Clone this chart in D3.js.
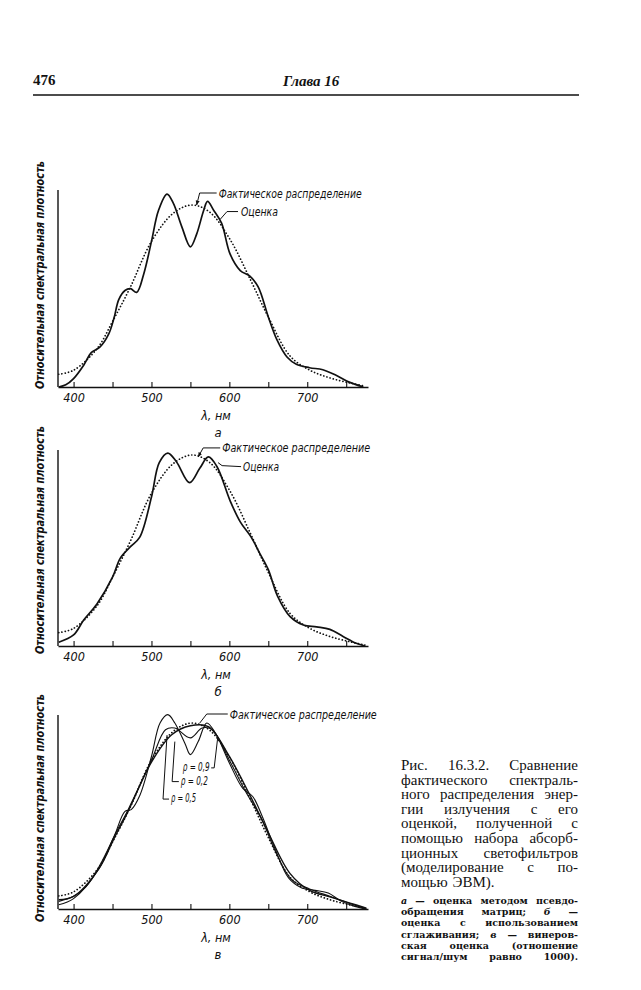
<!DOCTYPE html>
<html>
<head>
<meta charset="utf-8">
<script src="https://cdn.jsdelivr.net/npm/d3@7"></script>
<style>
body { margin: 0; background: #fff; }
text { fill: #111; }
.cond { font-family: "Liberation Sans Narrow", "DejaVu Sans Condensed", "Arial Narrow", sans-serif; font-style: italic; }
.cap { font-family: "Liberation Serif", "DejaVu Serif", serif; font-size: 15px; }
.small { font-family: "DejaVu Serif", "Liberation Serif", serif; font-size: 9.5px; font-weight: bold; }
</style>
</head>
<body>
<div id="page"></div>
<script>
// [wavelength nm, relative spectral density]
var actual = [[381,0.07],[400,0.092],[430,0.21],[450,0.36],[473,0.55],[500,0.80],[528,0.955],[552,1.0],[575,0.96],[601,0.81],[627,0.59],[650,0.385],[678,0.17],[703,0.093],[729,0.05],[755,0.022],[774,0.005]];

// panel а: pseudo-inverse estimate
var estimatePinv = [[381,0.0],[390,0.012],[400,0.046],[413,0.12],[423,0.19],[434,0.22],[445,0.29],[452,0.38],[458,0.48],[466,0.53],[473,0.54],[481,0.52],[490,0.62],[500,0.80],[509,0.97],[520,1.06],[528,1.01],[539,0.88],[550,0.77],[558,0.84],[567,0.97],[572,1.02],[580,0.97],[590,0.90],[601,0.73],[614,0.64],[626,0.61],[637,0.55],[650,0.385],[661,0.26],[674,0.165],[686,0.125],[703,0.106],[720,0.095],[737,0.064],[753,0.028],[772,0.0]];

// panel б: smoothed estimate
var estimateSmooth = [[381,0.02],[400,0.058],[413,0.136],[430,0.22],[450,0.36],[460,0.46],[473,0.52],[485,0.57],[500,0.78],[510,0.96],[521,1.01],[532,0.965],[549,0.855],[562,0.93],[573,0.99],[584,0.94],[601,0.76],[614,0.65],[628,0.57],[639,0.485],[650,0.40],[662,0.26],[678,0.154],[695,0.11],[712,0.10],[729,0.087],[746,0.05],[763,0.014],[774,0.0]];

// panel в: Wiener estimates
var rho02 = [[381,0.041],[400,0.068],[416,0.12],[433,0.23],[452,0.39],[466,0.525],[474,0.534],[485,0.61],[500,0.82],[511,1.0],[521,1.045],[530,1.0],[543,0.89],[550,0.83],[560,0.90],[571,1.0],[582,0.946],[600,0.785],[617,0.65],[630,0.605],[642,0.50],[659,0.32],[676,0.167],[693,0.113],[710,0.10],[727,0.086],[744,0.041],[761,0.014],[776,0.0]];
var rho05 = [[381,0.023],[400,0.056],[433,0.22],[452,0.39],[470,0.534],[500,0.80],[518,0.964],[530,0.973],[550,0.92],[565,0.973],[578,0.964],[600,0.80],[621,0.63],[642,0.48],[659,0.31],[680,0.158],[703,0.108],[729,0.068],[755,0.029],[776,0.0]];
var rho09 = [[381,0.05],[400,0.068],[433,0.22],[452,0.38],[470,0.525],[500,0.79],[526,0.937],[550,0.985],[573,0.98],[600,0.82],[626,0.615],[650,0.41],[678,0.19],[703,0.10],[729,0.065],[755,0.032],[776,0.005]];

var xTicks = [400, 450, 500, 550, 600, 650, 700, 750];
var xTickLabels = {400: "400", 500: "500", 600: "600", 700: "700"};

var captionMain = [
  "Рис. 16.3.2. Сравнение",
  "фактического спектраль-",
  "ного распределения энер-",
  "гии излучения с его",
  "оценкой, полученной с",
  "помощью набора абсорб-",
  "ционных светофильтров",
  "(моделирование с по-",
  "мощью ЭВМ)."
];
var captionSmall = [
  "а — оценка методом псевдо-",
  "обращения матриц; б —",
  "оценка с использованием",
  "сглаживания; в — винеров-",
  "ская оценка (отношение",
  "сигнал/шум равно 1000)."
];

var svg = d3.select("#page").append("svg")
    .attr("width", 641)
    .attr("height", 990);

// page header
svg.append("text").attr("x", 33).attr("y", 85)
    .style("font-family", "Liberation Serif, serif").style("font-size", "15px").style("font-weight", "bold")
    .text("476");
svg.append("text").attr("x", 283).attr("y", 86)
    .style("font-family", "Liberation Serif, serif").style("font-size", "15px").style("font-weight", "bold").style("font-style", "italic")
    .text("Глава 16");
svg.append("line").attr("x1", 33).attr("x2", 579).attr("y1", 95).attr("y2", 95)
    .attr("stroke", "#111").attr("stroke-width", 1.6);

svg.append("defs").append("marker")
    .attr("id", "arr").attr("viewBox", "0 0 10 10").attr("refX", 9).attr("refY", 5)
    .attr("markerWidth", 5).attr("markerHeight", 5).attr("orient", "auto")
  .append("path").attr("d", "M0,1L10,5L0,9z").attr("fill", "#111");

var x = d3.scaleLinear().domain([380, 778]).range([58, 368]);

var panels = [
  { letter: "а", base: 387, peak: 205, top: 190, labelMid: 275,
    curves: [{ data: estimatePinv, w: 1.7 }],
    notes: [
      { nm: 558, v: 1.0, pts: [[3, -12], [20, -12]], tx: 22, ty: -7, text: "Фактическое распределение", len: 143, arrow: true },
      { nm: 588, v: 0.92, pts: [[7, -8], [18, -8]], tx: 21, ty: -4, text: "Оценка", len: 37 }
    ] },
  { letter: "б", base: 646, peak: 455, top: 450, labelMid: 540,
    curves: [{ data: estimateSmooth, w: 1.7 }],
    notes: [
      { nm: 560, v: 0.99, pts: [[5, -9], [22, -9]], tx: 24, ty: -5, text: "Фактическое распределение", len: 148, arrow: true },
      { nm: 585.5, v: 0.96, pts: [[4, 3], [23, 4]], tx: 25, ty: 8, text: "Оценка", len: 36 }
    ] },
  { letter: "в", base: 909, peak: 723, top: 715, labelMid: 808,
    curves: [{ data: rho02, w: 1.1 }, { data: rho05, w: 1.1 }, { data: rho09, w: 1.4 }],
    notes: [
      { nm: 562, v: 1.0, pts: [[7, -9], [28, -9]], tx: 30, ty: -4, text: "Фактическое распределение", len: 147 },
      { nm: 585, v: 0.92, pts: [[-3.5, 30], [-6.5, 30]], tx: -35, ty: 33, text: "ρ = 0,9", len: 27 },
      { nm: 530, v: 0.90, pts: [[-2.7, 40], [4, 40]], tx: 6, ty: 43, text: "ρ = 0,2", len: 27 },
      { nm: 520, v: 0.935, pts: [[-4, 64], [2, 64]], tx: 4, ty: 67, text: "ρ = 0,5", len: 25 }
    ] }
];

panels.forEach(function(p) {
  var y = d3.scaleLinear().domain([0, 1]).range([p.base, p.peak]);
  var g = svg.append("g");

  var xAxis = d3.axisBottom(x)
      .tickValues(xTicks)
      .tickSize(-5)
      .tickSizeOuter(0)
      .tickPadding(6)
      .tickFormat(function(d) { return xTickLabels[d] || ""; });

  var ax = g.append("g")
      .attr("transform", "translate(0," + p.base + ")")
      .call(xAxis);
  ax.select(".domain").attr("stroke", "#111").attr("stroke-width", 1.4);
  ax.selectAll(".tick line").attr("stroke", "#111").attr("stroke-width", 1.1);
  ax.selectAll(".tick text")
      .attr("class", "cond")
      .style("font-size", "12.5px")
      .attr("fill", "#111");

  g.append("line")
      .attr("x1", x(380)).attr("x2", x(380))
      .attr("y1", p.top).attr("y2", p.base)
      .attr("stroke", "#111").attr("stroke-width", 1.4);

  g.append("text")
      .attr("class", "cond")
      .attr("transform", "translate(44," + p.labelMid + ") rotate(-90)")
      .attr("text-anchor", "middle")
      .attr("textLength", 228)
      .attr("lengthAdjust", "spacingAndGlyphs")
      .style("font-size", "11.5px").style("font-weight", "bold")
      .text("Относительная спектральная плотность");

  g.append("text").attr("class", "cond")
      .attr("x", 216).attr("y", p.base + 33)
      .attr("text-anchor", "middle")
      .style("font-size", "12.5px")
      .text("λ, нм");
  g.append("text").attr("class", "cond")
      .attr("x", 218).attr("y", p.base + 50)
      .attr("text-anchor", "middle")
      .style("font-size", "13px")
      .text(p.letter);

  var line = d3.line()
      .x(function(d) { return x(d[0]); })
      .y(function(d) { return y(d[1]); })
      .curve(d3.curveCatmullRom.alpha(0.5));

  g.append("path")
      .attr("d", line(actual))
      .attr("fill", "none")
      .attr("stroke", "#111")
      .attr("stroke-width", 1.7)
      .attr("stroke-linecap", "round")
      .attr("stroke-dasharray", "0.1,3.2");

  p.curves.forEach(function(c) {
    g.append("path")
        .attr("d", line(c.data))
        .attr("fill", "none")
        .attr("stroke", "#111")
        .attr("stroke-width", c.w);
  });

  p.notes.forEach(function(n) {
    var tx = x(n.nm), ty = y(n.v);
    var pts = [[tx, ty]].concat(n.pts.map(function(o) { return [tx + o[0], ty + o[1]]; }));
    pts.reverse();
    var path = g.append("path")
        .attr("d", d3.line()(pts))
        .attr("fill", "none")
        .attr("stroke", "#111")
        .attr("stroke-width", 1);
    if (n.arrow) path.attr("marker-end", "url(#arr)");
    g.append("text").attr("class", "cond")
        .attr("x", tx + n.tx).attr("y", ty + n.ty)
        .attr("textLength", n.len)
        .attr("lengthAdjust", "spacingAndGlyphs")
        .style("font-size", "11.5px")
        .text(n.text);
  });
});

// caption, justified word by word
function justify(lines, cls, x0, width, y0, lh, lastLeft) {
  lines.forEach(function(line, i) {
    var words = line.split(" ");
    var texts = words.map(function(w) {
      var t = svg.append("text").attr("class", cls).attr("y", y0 + i * lh).text(w);
      if (cls == "small" && (w == "а" || w == "б" || w == "в")) t.style("font-style", "italic");
      return t;
    });
    var widths = texts.map(function(t) { return t.node().getComputedTextLength(); });
    var gap = (width - d3.sum(widths)) / (words.length - 1);
    if (lastLeft && i == lines.length - 1) gap = 5;
    var cx = x0;
    texts.forEach(function(t, j) {
      t.attr("x", cx);
      cx += widths[j] + gap;
    });
  });
}

justify(captionMain, "cap", 401, 177, 770, 14.6, true);
justify(captionSmall, "small", 401, 177, 904, 11.2, false);
</script>
</body>
</html>
